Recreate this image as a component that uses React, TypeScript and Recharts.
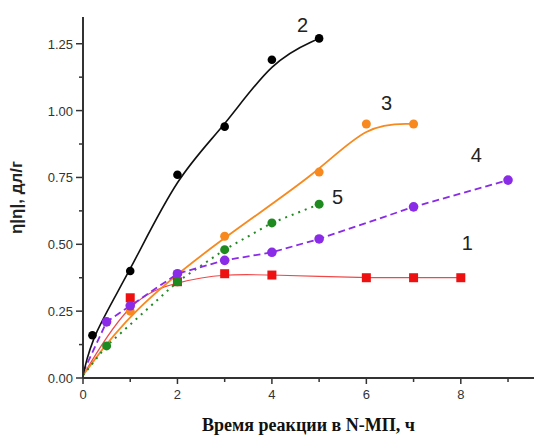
import { LineChart, Line, XAxis, YAxis, ReferenceDot } from "recharts";

// time of reaction, h  /  intrinsic viscosity, dl/g
const curve1Time = [0, 1, 2, 3, 4, 6, 7, 8];
const curve1Eta = [0.01, 0.3, 0.36, 0.39, 0.385, 0.375, 0.375, 0.375];
const curve2Time = [0, 0.2, 1, 2, 3, 4, 5];
const curve2Eta = [0.01, 0.16, 0.4, 0.76, 0.94, 1.19, 1.27];
const curve3Time = [0, 1, 3, 5, 6, 7];
const curve3Eta = [0.01, 0.25, 0.53, 0.77, 0.95, 0.95];
const curve4Time = [0, 0.5, 1, 2, 3, 4, 5, 7, 9];
const curve4Eta = [0.02, 0.21, 0.27, 0.39, 0.44, 0.47, 0.52, 0.64, 0.74];
const curve5Time = [0, 0.5, 2, 3, 4, 5];
const curve5Eta = [0.01, 0.12, 0.36, 0.48, 0.58, 0.65];

const xTicks = [0, 1, 2, 3, 4, 5, 6, 7, 8, 9];
const yTicks = [0, 0.125, 0.25, 0.375, 0.5, 0.625, 0.75, 0.875, 1, 1.125, 1.25];

// curve number labels: [name, time, eta]
const curveLabels: [string, number, number][] = [
  ["1", 8.14, 0.505],
  ["2", 4.65, 1.32],
  ["3", 6.43, 1.03],
  ["4", 8.33, 0.835],
  ["5", 5.39, 0.677],
];

const toPoints = (t: number[], eta: number[]) => t.map((x, i) => ({ t: x, eta: eta[i] }));

const axisColor = "#333";

const XTick = (p: any) => {
  const v = p.payload.value;
  const major = v % 2 === 0;
  return (
    <g>
      <line x1={p.x} x2={p.x} y1={p.y} y2={p.y + (major ? 6 : 4)} stroke={axisColor} strokeWidth={1.5} />
      {major && (
        <text x={p.x} y={p.y + 21} textAnchor="middle" fontSize={13} fill={axisColor} fontFamily="Liberation Sans, Arial">
          {v}
        </text>
      )}
    </g>
  );
};

const YTick = (p: any) => {
  const v = p.payload.value;
  const major = Math.abs(v / 0.25 - Math.round(v / 0.25)) < 1e-6;
  return (
    <g>
      <line x1={p.x - (major ? 7 : 4)} x2={p.x} y1={p.y} y2={p.y} stroke={axisColor} strokeWidth={1.5} />
      {major && (
        <text x={p.x - 10} y={p.y + 5} textAnchor="end" fontSize={13} fill={axisColor} fontFamily="Liberation Sans, Arial">
          {v.toFixed(2)}
        </text>
      )}
    </g>
  );
};

const makeDot = (color: string, r: number) => (p: any) => {
  if (p.payload.t === 0) return <g key={p.key} />;
  return <circle key={p.key} cx={p.cx} cy={p.cy} r={r} fill={color} stroke="none" />;
};

const squareDot = (p: any) => {
  if (p.payload.t === 0) return <g key={p.key} />;
  return <rect key={p.key} x={p.cx - 4.5} y={p.cy - 4.5} width={9} height={9} fill="#ee1111" />;
};

export default function App() {
  return (
    <div style={{ position: "absolute", left: 0, top: 0, background: "#fff" }}>
      <LineChart width={534} height={439} margin={{ top: 17, right: 0, bottom: 0, left: 0 }}>
        <XAxis
          type="number"
          dataKey="t"
          domain={[0, 9.55]}
          ticks={xTicks}
          allowDataOverflow
          height={61}
          tickSize={0}
          tickMargin={0}
          tickLine={false}
          tick={<XTick />}
          axisLine={{ stroke: axisColor, strokeWidth: 2 }}
          label={{
            value: "Время реакции в N-МП, ч",
            position: "insideBottom",
            offset: 8,
            style: { fontFamily: "Liberation Serif, Times New Roman", fontWeight: 700, fontSize: 18, fill: "#111" },
          }}
        />
        <YAxis
          type="number"
          dataKey="eta"
          domain={[0, 1.35]}
          ticks={yTicks}
          allowDataOverflow
          width={83}
          tickSize={0}
          tickMargin={0}
          tickLine={false}
          tick={<YTick />}
          axisLine={{ stroke: axisColor, strokeWidth: 2 }}
          label={{
            value: "η|η|, дл/г",
            angle: -90,
            position: "insideLeft",
            offset: 16,
            style: { textAnchor: "middle", fontFamily: "Liberation Sans, Arial", fontWeight: 700, fontSize: 17, fill: "#222" },
          }}
        />
        <Line
          data={toPoints(curve1Time, curve1Eta)}
          dataKey="eta"
          type="basis"
          stroke="#f04848"
          strokeWidth={1.2}
          dot={squareDot}
          isAnimationActive={false}
        />
        <Line
          data={toPoints(curve3Time, curve3Eta)}
          dataKey="eta"
          type="basis"
          stroke="#f7891f"
          strokeWidth={1.8}
          dot={makeDot("#f7891f", 4.5)}
          isAnimationActive={false}
        />
        <Line
          data={toPoints(curve4Time, curve4Eta)}
          dataKey="eta"
          type="linear"
          stroke="#8a2be8"
          strokeWidth={1.8}
          strokeDasharray="7 4"
          dot={makeDot("#8a2be8", 4.8)}
          isAnimationActive={false}
        />
        <Line
          data={toPoints(curve5Time, curve5Eta)}
          dataKey="eta"
          type="linear"
          stroke="#1f8a1f"
          strokeWidth={2}
          strokeDasharray="2 5"
          dot={makeDot("#1f8a1f", 4.5)}
          isAnimationActive={false}
        />
        <Line
          data={toPoints(curve2Time, curve2Eta)}
          dataKey="eta"
          type="basis"
          stroke="#111"
          strokeWidth={1.6}
          dot={makeDot("#000", 4.3)}
          isAnimationActive={false}
        />
        {curveLabels.map(([name, t, eta]) => (
          <ReferenceDot
            key={name}
            x={t}
            y={eta}
            ifOverflow="visible"
            shape={(p: any) => (
              <text x={p.cx} y={p.cy + 7} textAnchor="middle" fontSize={20} fill="#222" fontFamily="Liberation Sans, Arial">
                {name}
              </text>
            )}
          />
        ))}
      </LineChart>
    </div>
  );
}
